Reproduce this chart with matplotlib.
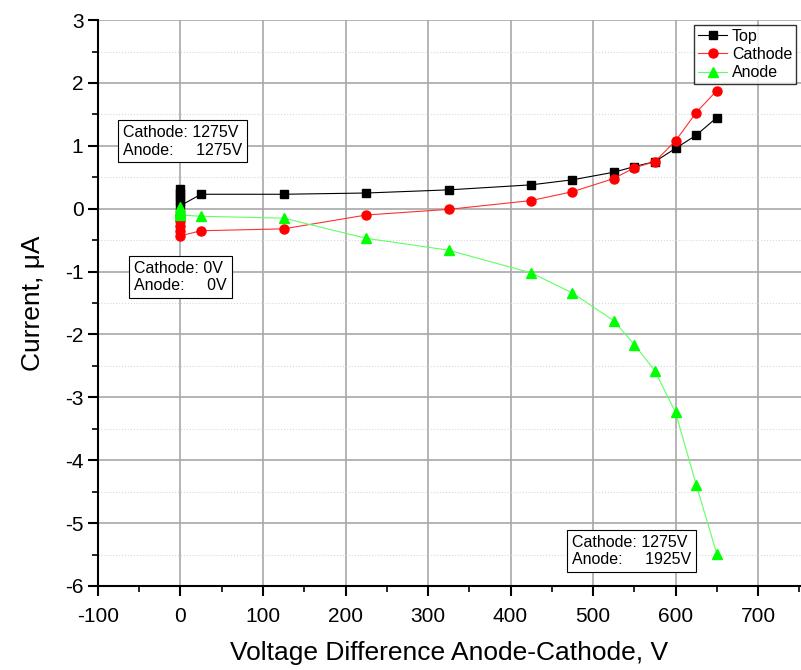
import matplotlib.pyplot as plt
from matplotlib.ticker import MultipleLocator

plt.rcParams['font.family'] = ['Liberation Sans', 'DejaVu Sans']
plt.rcParams['axes.unicode_minus'] = False

# voltage difference anode-cathode, V
volt = [0, 0, 0, 0, 0, 25, 125, 225, 325, 425, 475, 525, 550, 575, 600, 625, 650]
top = [0.32, 0.25, 0.18, 0.12, 0.05, 0.23, 0.23, 0.25, 0.30, 0.38, 0.46, 0.58, 0.67, 0.75, 0.96, 1.17, 1.45]
cathode = [-0.10, -0.20, -0.28, -0.36, -0.43, -0.35, -0.32, -0.10, -0.01, 0.13, 0.27, 0.48, 0.65, 0.75, 1.08, 1.53, 1.88]
anode = [0.02, -0.03, -0.06, -0.08, -0.10, -0.12, -0.15, -0.47, -0.66, -1.02, -1.34, -1.78, -2.16, -2.58, -3.24, -4.39, -5.49]

fig = plt.figure(figsize=(8.01, 6.70), dpi=100)
ax = fig.add_axes([0.1223, 0.1254, 0.8777, 0.8446])

ax.plot(volt, top, color='black', lw=0.8, marker='s', ms=6, mfc='black', mec='black', label='Top', zorder=3)
ax.plot(volt, cathode, color='#ff3030', lw=0.8, marker='o', ms=6.5, mfc='red', mec='red', label='Cathode', zorder=3)
ax.plot(volt, anode, color='#60ff60', lw=0.8, marker='^', ms=7, mfc='#00ff00', mec='#00ff00', label='Anode', zorder=3)

ax.set_xlim(-100, 752)
ax.set_ylim(-6, 3)
ax.xaxis.set_major_locator(MultipleLocator(100))
ax.xaxis.set_minor_locator(MultipleLocator(50))
ax.yaxis.set_major_locator(MultipleLocator(1))
ax.yaxis.set_minor_locator(MultipleLocator(0.5))

ax.grid(which='major', color='#a8a8a8', lw=1.2)
ax.grid(which='minor', axis='y', color='#d8d8d8', lw=0.8, ls=':')
ax.set_axisbelow(True)

for s in ['top', 'right']:
    ax.spines[s].set_visible(False)
for s in ['left', 'bottom']:
    ax.spines[s].set_linewidth(1.5)
ax.tick_params(which='major', direction='out', length=7, width=1.5, labelsize=15)
ax.tick_params(axis='x', which='major', pad=8)
ax.tick_params(which='minor', direction='out', length=4, width=1.2)

ax.set_xlabel('Voltage Difference Anode-Cathode, V', fontsize=19, labelpad=11)
ax.set_ylabel('Current, μA', fontsize=19, labelpad=14)

box = dict(boxstyle='square,pad=0.3', fc='white', ec='black', lw=0.8)
ax.text(-70, 1.33, 'Cathode: 1275V\nAnode:     1275V', fontsize=11.5, va='top', ha='left', bbox=box, zorder=5)
ax.text(-56, -0.83, 'Cathode: 0V\nAnode:     0V', fontsize=11.5, va='top', ha='left', bbox=box, zorder=5)
ax.text(474, -5.19, 'Cathode: 1275V\nAnode:     1925V', fontsize=11.5, va='top', ha='left', bbox=box, zorder=5)

leg = ax.legend(loc='upper right', bbox_to_anchor=(1.0, 1.0), fontsize=11.5, frameon=True, fancybox=False,
                handlelength=1.8, borderpad=0.25, labelspacing=0.2, handletextpad=0.3, borderaxespad=0.3)
leg.get_frame().set_edgecolor('black')
leg.get_frame().set_linewidth(1.0)

fig.savefig('out.png', dpi=100)
